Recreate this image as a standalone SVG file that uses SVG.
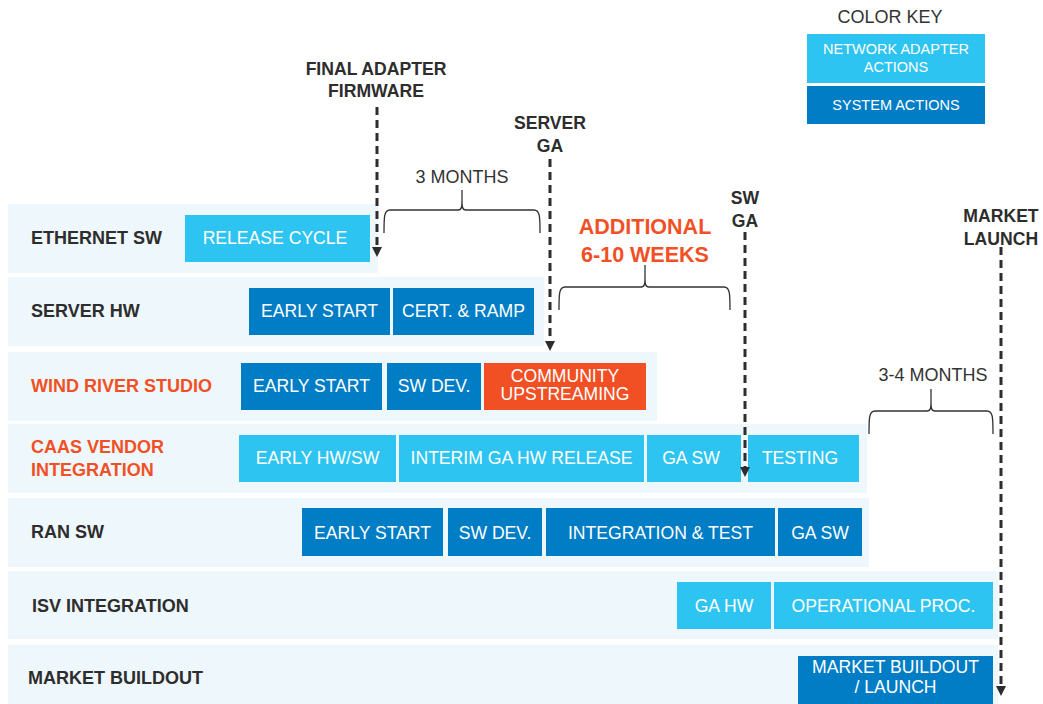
<svg xmlns="http://www.w3.org/2000/svg" width="1043" height="704" viewBox="0 0 1043 704">
<style>
.bg{fill:#EEF7FB}
.lt{fill:#2EC4F2}
.dk{fill:#007DC5}
.or{fill:#F15025}
.bt{font-family:"Liberation Sans",Arial,sans-serif;font-size:17.6px;fill:#FFFFFF;text-anchor:middle}
.kt{font-family:"Liberation Sans",Arial,sans-serif;font-size:14.5px;fill:#FFFFFF;text-anchor:middle}
.rl{font-family:"Liberation Sans",Arial,sans-serif;font-size:18px;font-weight:bold;fill:#2D2D2D}
.rlo{fill:#F15025}
.ml{font-family:"Liberation Sans",Arial,sans-serif;font-size:17.6px;font-weight:bold;fill:#2D2D2D;text-anchor:middle}
.nt{font-family:"Liberation Sans",Arial,sans-serif;font-size:18px;fill:#333333;text-anchor:middle}
.ad{font-family:"Liberation Sans",Arial,sans-serif;font-size:21.5px;font-weight:bold;fill:#F15025;text-anchor:middle}
.arr{stroke:#2D2D2D;stroke-width:3;stroke-dasharray:8 5;fill:none}
.brace{stroke:#333333;stroke-width:1.3;fill:none}
</style>
<defs>
<marker id="head" markerUnits="userSpaceOnUse" markerWidth="10" markerHeight="10" refX="0" refY="5" orient="auto">
<path d="M0,0 L10,5 L0,10 z" fill="#2D2D2D"/>
</marker>
</defs>

<g id="color-key">
<text class="nt" x="890" y="23">COLOR KEY</text>
<rect class="lt" x="807" y="34" width="178" height="49"/>
<text class="kt" x="896" y="54">NETWORK ADAPTER</text>
<text class="kt" x="896" y="72">ACTIONS</text>
<rect class="dk" x="807" y="86" width="178" height="38"/>
<text class="kt" x="896" y="110">SYSTEM ACTIONS</text>
</g>

<g id="row-ethernet">
<rect class="bg" x="8" y="204" width="370" height="69"/>
<text class="rl" x="31" y="244">ETHERNET SW</text>
<rect class="lt" x="185" y="215" width="185" height="47"/>
<text class="bt" x="275" y="244">RELEASE CYCLE</text>
</g>

<g id="row-server">
<rect class="bg" x="8" y="277" width="536" height="69"/>
<text class="rl" x="31" y="317">SERVER HW</text>
<rect class="dk" x="249" y="288" width="141" height="47"/>
<text class="bt" x="319.5" y="317">EARLY START</text>
<rect class="dk" x="393" y="288" width="141" height="47"/>
<text class="bt" x="463.5" y="317">CERT. &amp; RAMP</text>
</g>

<g id="row-windriver">
<rect class="bg" x="8" y="352" width="649" height="69"/>
<text class="rl rlo" x="31" y="392">WIND RIVER STUDIO</text>
<rect class="dk" x="241" y="363" width="141" height="47"/>
<text class="bt" x="311.5" y="392">EARLY START</text>
<rect class="dk" x="387" y="363" width="94" height="47"/>
<text class="bt" x="434" y="392">SW DEV.</text>
<rect class="or" x="484" y="363" width="162" height="47"/>
<text class="bt" x="565" y="382">COMMUNITY</text>
<text class="bt" x="565" y="400">UPSTREAMING</text>
</g>

<g id="row-caas">
<rect class="bg" x="8" y="424" width="859" height="69"/>
<text class="rl rlo" x="31" y="453">CAAS VENDOR</text>
<text class="rl rlo" x="31" y="476">INTEGRATION</text>
<rect class="lt" x="239" y="435" width="157" height="47"/>
<text class="bt" x="317.5" y="464">EARLY HW/SW</text>
<rect class="lt" x="399" y="435" width="245" height="47"/>
<text class="bt" x="521.5" y="464">INTERIM GA HW RELEASE</text>
<rect class="lt" x="647" y="435" width="94" height="47"/>
<text class="bt" x="691" y="464">GA SW</text>
<rect class="lt" x="748" y="435" width="111" height="47"/>
<text class="bt" x="800" y="464">TESTING</text>
</g>

<g id="row-ran">
<rect class="bg" x="8" y="498" width="861" height="69"/>
<text class="rl" x="31" y="538">RAN SW</text>
<rect class="dk" x="302" y="508" width="141" height="48"/>
<text class="bt" x="372.5" y="539">EARLY START</text>
<rect class="dk" x="448" y="508" width="94" height="48"/>
<text class="bt" x="495" y="539">SW DEV.</text>
<rect class="dk" x="546" y="508" width="229" height="48"/>
<text class="bt" x="660.5" y="539">INTEGRATION &amp; TEST</text>
<rect class="dk" x="778" y="508" width="84" height="48"/>
<text class="bt" x="820" y="539">GA SW</text>
</g>

<g id="row-isv">
<rect class="bg" x="8" y="571" width="990" height="68"/>
<text class="rl" x="32" y="612">ISV INTEGRATION</text>
<rect class="lt" x="677" y="582" width="94" height="47"/>
<text class="bt" x="724" y="612">GA HW</text>
<rect class="lt" x="774" y="582" width="219" height="47"/>
<text class="bt" x="883.5" y="612">OPERATIONAL PROC.</text>
</g>

<g id="row-market">
<rect class="bg" x="8" y="645" width="990" height="59"/>
<text class="rl" x="28" y="684">MARKET BUILDOUT</text>
<rect class="dk" x="798" y="656" width="195" height="48"/>
<text class="bt" x="895.5" y="673">MARKET BUILDOUT</text>
<text class="bt" x="895.5" y="693">/ LAUNCH</text>
</g>

<g id="milestone-labels">
<text class="ml" x="376" y="75">FINAL ADAPTER</text>
<text class="ml" x="376" y="97">FIRMWARE</text>
<text class="ml" x="550" y="129">SERVER</text>
<text class="ml" x="550" y="152">GA</text>
<text class="ml" x="745" y="204">SW</text>
<text class="ml" x="745" y="227">GA</text>
<text class="ml" x="1001" y="222">MARKET</text>
<text class="ml" x="1001" y="245">LAUNCH</text>
</g>

<g id="spans">
<text class="nt" x="462" y="183">3 MONTHS</text>
<path class="brace" d="M384,233 C384,217 384,210 390,210 L458,210 C462,210 462,206 462,200 L462,190 M462,200 C462,206 462,210 466,210 L534,210 C540,210 540,217 540,233"/>
<text class="ad" x="645" y="234">ADDITIONAL</text>
<text class="ad" x="645" y="262">6-10 WEEKS</text>
<path class="brace" d="M559,310 C559,294 559,287 565,287 L641,287 C645,287 645,283 645,277 L645,265 M645,277 C645,283 645,287 649,287 L724,287 C730,287 730,294 730,310"/>
<text class="nt" x="933" y="381">3-4 MONTHS</text>
<path class="brace" d="M869,434 C869,418 869,411 875,411 L927,411 C931,411 931,407 931,401 L931,389 M931,401 C931,407 931,411 935,411 L987,411 C993,411 993,418 993,434"/>
</g>

<g id="connectors">
<path class="arr" d="M377,107 L377,247" marker-end="url(#head)"/>
<path class="arr" d="M550,159 L550,341" marker-end="url(#head)"/>
<path class="arr" d="M745,232 L745,467" marker-end="url(#head)"/>
<path class="arr" d="M1001,247 L1001,686" marker-end="url(#head)"/>
</g>
</svg>
